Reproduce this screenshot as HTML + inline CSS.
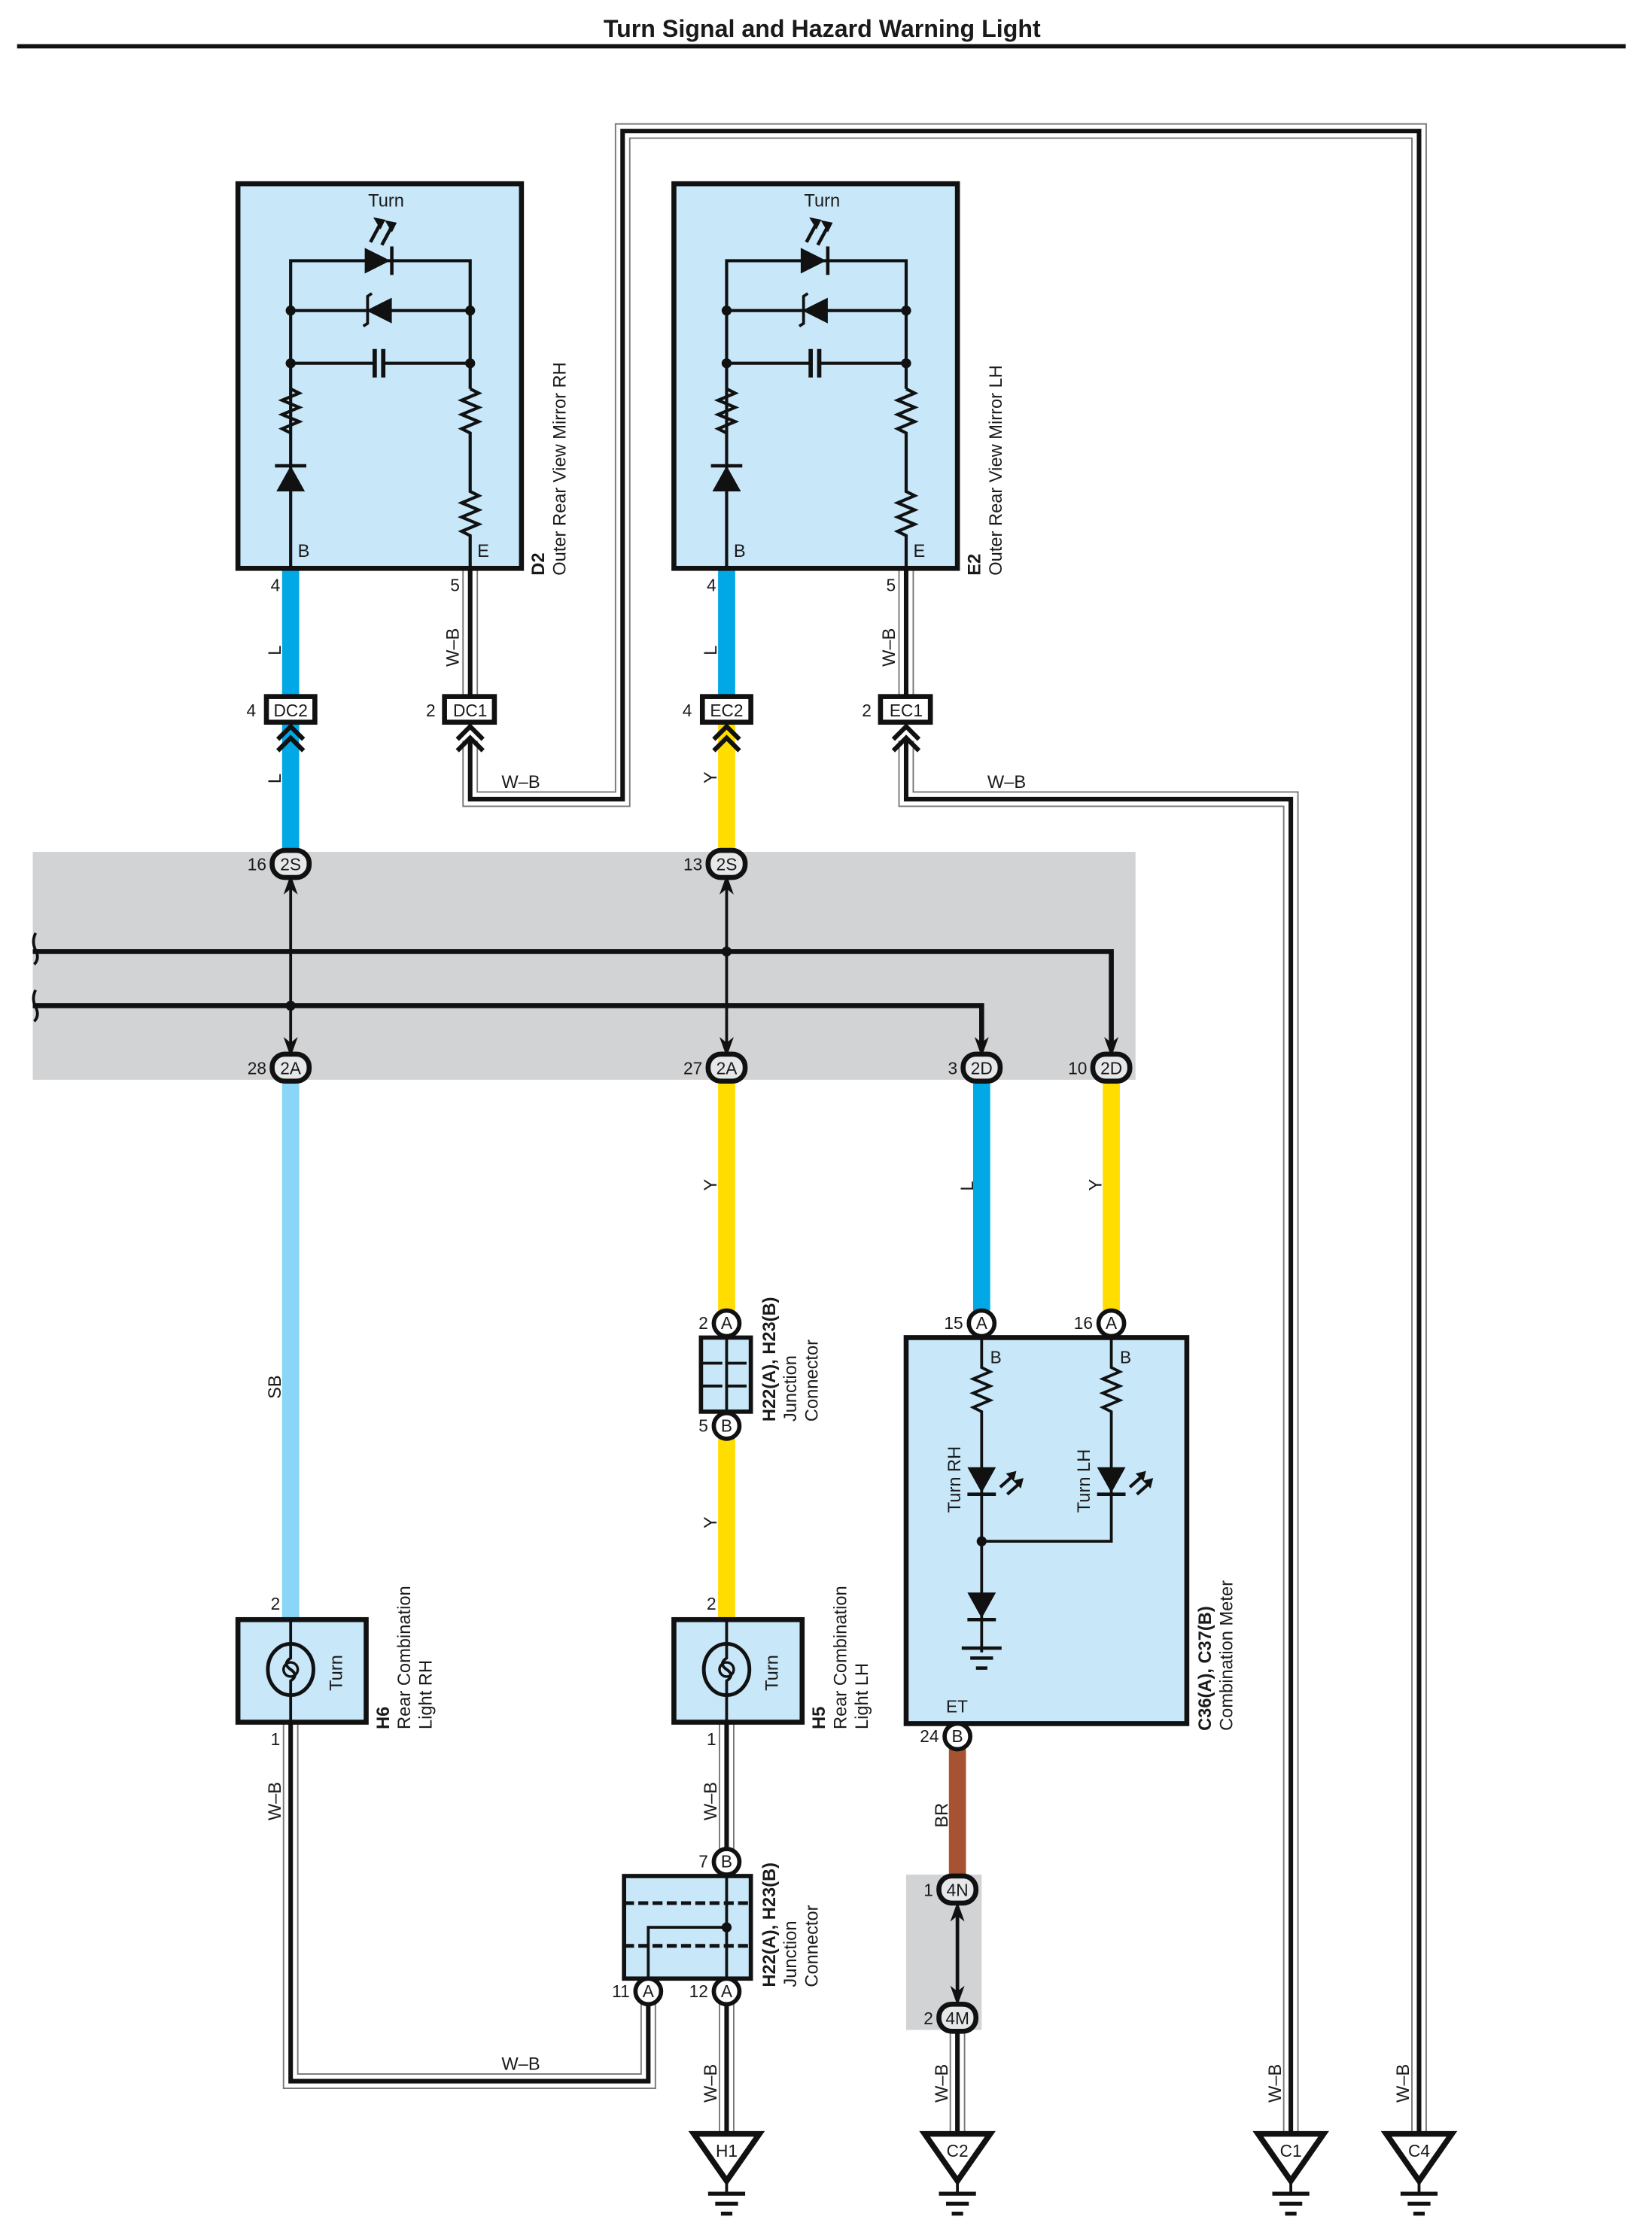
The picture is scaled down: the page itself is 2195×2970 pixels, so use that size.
<!DOCTYPE html>
<html><head><meta charset="utf-8"><style>
html,body{margin:0;padding:0;background:#fff}
svg{display:block}
text{font-family:"Liberation Sans",Arial,sans-serif;fill:#1a1a1a}
.p{font-size:12px}
.l{font-size:12.5px}
.b{font-weight:bold}
</style></head><body>
<svg width="2195" height="2970" viewBox="0 0 1159.5 1569" preserveAspectRatio="none" xmlns="http://www.w3.org/2000/svg">
<defs>
<g id="gnd"><path d="M-23 0 L23 0 L0 33 Z" fill="#fff" stroke="#111" stroke-width="4" stroke-linejoin="miter"/><path d="M0 33 V42" stroke="#111" stroke-width="2"/><path d="M-13 42 H13 M-8 49 H8 M-4 56 H4" stroke="#111" stroke-width="2.8"/></g>
<g id="chev"><path d="M-9 12 l9 -9 l9 9 M-9 20 l9 -9 l9 9" fill="none" stroke="#111" stroke-width="3.2"/></g>
<path id="up" d="M0 -2 l-5 14 l5 -4 l5 4 z" fill="#111"/>
<path id="dn" d="M0 2 l-5 -14 l5 4 l5 -4 z" fill="#111"/>
</defs>

<text x="577" y="26" text-anchor="middle" font-size="17" class="b">Turn Signal and Hazard Warning Light</text>
<rect x="12" y="31" width="1129" height="3" fill="#111"/>

<!-- gray bands -->
<rect x="23" y="598" width="774" height="160" fill="#d1d3d4"/>
<rect x="636" y="1316" width="53" height="109" fill="#d1d3d4"/>

<!-- W-B wires -->
<g fill="none" stroke-linejoin="miter">
<g stroke="#777" stroke-width="11">
<path d="M330 399 V488"/><path d="M330 520 V561 H437 V92 H996 V1498"/>
<path d="M636 399 V488"/><path d="M636 520 V561 H906 V1498"/>
<path d="M204 1209 V1461 H455 V1398"/><path d="M510 1209 V1307"/><path d="M510 1398 V1498"/><path d="M672 1425 V1498"/>
</g>
<g stroke="#fff" stroke-width="9">
<path d="M330 399 V488"/><path d="M330 520 V561 H437 V92 H996 V1498"/>
<path d="M636 399 V488"/><path d="M636 520 V561 H906 V1498"/>
<path d="M204 1209 V1461 H455 V1398"/><path d="M510 1209 V1307"/><path d="M510 1398 V1498"/><path d="M672 1425 V1498"/>
</g>
<g stroke="#111" stroke-width="3.2">
<path d="M330 399 V488"/><path d="M330 520 V561 H437 V92 H996 V1498"/>
<path d="M636 399 V488"/><path d="M636 520 V561 H906 V1498"/>
<path d="M204 1209 V1461 H455 V1398"/><path d="M510 1209 V1307"/><path d="M510 1398 V1498"/><path d="M672 1425 V1498"/>
</g>
</g>

<!-- colored wires -->
<g fill="none" stroke-width="12">
<path d="M204 399 V598" stroke="#00a9e6"/>
<path d="M510 399 V488" stroke="#00a9e6"/>
<path d="M510 507 V598" stroke="#ffdd00"/>
<path d="M204 758 V1137" stroke="#8ad6f6"/>
<path d="M510 758 V920" stroke="#ffdd00"/>
<path d="M510 1010 V1137" stroke="#ffdd00"/>
<path d="M689 758 V920" stroke="#00a9e6"/>
<path d="M780 758 V920" stroke="#ffdd00"/>
<path d="M672 1228 V1316" stroke="#a65332"/>
</g>

<!-- Mirror boxes -->
<g id="mir">
<rect x="167" y="129" width="199" height="270" fill="#c8e8fa" stroke="#111" stroke-width="3.5"/>
<text x="271" y="145" text-anchor="middle" class="l">Turn</text>
<g fill="none" stroke="#111" stroke-width="2.2">
<path d="M204 399 V183 H330 V273"/>
<path d="M204 218 H330"/>
<path d="M204 255 H263 M268 255 H330"/>
<path d="M330 273 l6 3 l-12 5 l12 5 l-12 5 l12 5 l-12 5 l6 3 V345 l6 3 l-12 5 l12 5 l-12 5 l12 5 l-12 5 l6 3 V399"/>
<path d="M204 273 l6 3 l-12 5 l12 5 l-12 5 l12 5 l-12 5 l6 3"/>
</g>
<path d="M256 174 L274 183 L256 192 Z" fill="#111"/><path d="M275 173 V193" stroke="#111" stroke-width="2.4"/>
<path d="M260 170 l7 -13 M268 172 l7 -13" stroke="#111" stroke-width="2.4"/>
<path d="M264 154 l5 1 l-2 4z M272 156 l5 1 l-2 4z" fill="#111" stroke="#111" stroke-width="2"/>
<path d="M275 209 L257 218 L275 227 Z" fill="#111"/><path d="M255 229 l3 -2 V208 l3 -2" fill="none" stroke="#111" stroke-width="2"/>
<path d="M263 245 V265 M269 245 V265" stroke="#111" stroke-width="3"/>
<path d="M194 345 L204 327 L214 345 Z" fill="#111"/><path d="M193 327 H215" stroke="#111" stroke-width="2.4"/>
<circle cx="204" cy="218" r="3.5" fill="#111"/><circle cx="330" cy="218" r="3.5" fill="#111"/>
<circle cx="204" cy="255" r="3.5" fill="#111"/><circle cx="330" cy="255" r="3.5" fill="#111"/>
<text x="209" y="391" class="l">B</text><text x="335" y="391" class="l">E</text>
</g>
<use href="#mir" x="306"/>

<text transform="translate(382,404) rotate(-90)" class="l b">D2</text>
<text transform="translate(397,404) rotate(-90)" class="l">Outer Rear View Mirror RH</text>
<text transform="translate(688,404) rotate(-90)" class="l b">E2</text>
<text transform="translate(703,404) rotate(-90)" class="l">Outer Rear View Mirror LH</text>

<text x="190" y="415" class="p">4</text><text x="316" y="415" class="p">5</text>
<text x="496" y="415" class="p">4</text><text x="622" y="415" class="p">5</text>
<text transform="translate(197,460) rotate(-90)" class="l">L</text>
<text transform="translate(322,468) rotate(-90)" class="l">W–B</text>
<text transform="translate(503,460) rotate(-90)" class="l">L</text>
<text transform="translate(628,468) rotate(-90)" class="l">W–B</text>
<text transform="translate(197,550) rotate(-90)" class="l">L</text>
<text transform="translate(503,550) rotate(-90)" class="l">Y</text>
<text x="352" y="553" class="l">W–B</text>
<text x="693" y="553" class="l">W–B</text>

<g fill="#fff" stroke="#111" stroke-width="3.5">
<rect x="187" y="489" width="34" height="18"/><rect x="312" y="489" width="35" height="18"/>
<rect x="493" y="489" width="34" height="18"/><rect x="618" y="489" width="35" height="18"/>
</g>
<g class="p" text-anchor="middle">
<text x="204" y="503">DC2</text><text x="330" y="503">DC1</text><text x="510" y="503">EC2</text><text x="636" y="503">EC1</text>
</g>
<text x="173" y="503" class="p">4</text><text x="299" y="503" class="p">2</text><text x="479" y="503" class="p">4</text><text x="605" y="503" class="p">2</text>
<use href="#chev" x="204" y="507"/><use href="#chev" x="330" y="507"/><use href="#chev" x="510" y="507"/><use href="#chev" x="636" y="507"/>

<g stroke="#111" fill="none">
<path d="M204 620 V736 M510 620 V736" stroke-width="2"/>
<path d="M23 668 H780 V732 M23 706 H689 V732" stroke-width="3.5"/>
<path d="M25 655 q-3 6 0 12 q3 6 -1 10 M25 695 q-3 6 0 12 q3 6 -1 10" stroke-width="2"/>
</g>
<circle cx="510" cy="668" r="3.5" fill="#111"/><circle cx="204" cy="706" r="3.5" fill="#111"/>
<use href="#up" x="204" y="616"/><use href="#up" x="510" y="616"/>
<use href="#dn" x="204" y="740"/><use href="#dn" x="510" y="740"/><use href="#dn" x="689" y="740"/><use href="#dn" x="780" y="740"/>

<g fill="#e6e7e8" stroke="#111" stroke-width="3.5">
<rect x="191" y="597" width="26" height="19" rx="9"/><rect x="497" y="597" width="26" height="19" rx="9"/>
<rect x="191" y="740" width="26" height="19" rx="9"/><rect x="497" y="740" width="26" height="19" rx="9"/>
<rect x="676" y="740" width="26" height="19" rx="9"/><rect x="767" y="740" width="26" height="19" rx="9"/>
<rect x="659" y="1317" width="26" height="19" rx="9"/><rect x="659" y="1407" width="26" height="19" rx="9"/>
</g>
<g class="p" text-anchor="middle">
<text x="204" y="611">2S</text><text x="510" y="611">2S</text>
<text x="204" y="754">2A</text><text x="510" y="754">2A</text><text x="689" y="754">2D</text><text x="780" y="754">2D</text>
<text x="672" y="1331">4N</text><text x="672" y="1421">4M</text>
</g>
<g class="p" text-anchor="end">
<text x="187" y="611">16</text><text x="493" y="611">13</text>
<text x="187" y="754">28</text><text x="493" y="754">27</text><text x="672" y="754">3</text><text x="763" y="754">10</text>
<text x="655" y="1331">1</text><text x="655" y="1421">2</text>
</g>
<path d="M672 1345 V1398" stroke="#111" stroke-width="2.5"/>
<use href="#up" x="672" y="1337"/><use href="#dn" x="672" y="1406"/>

<text transform="translate(197,982) rotate(-90)" class="l">SB</text>
<text transform="translate(503,836) rotate(-90)" class="l">Y</text>
<text transform="translate(683,836) rotate(-90)" class="l">L</text>
<text transform="translate(773,836) rotate(-90)" class="l">Y</text>
<text transform="translate(503,1073) rotate(-90)" class="l">Y</text>
<text transform="translate(665,1283) rotate(-90)" class="l">BR</text>
<text transform="translate(197,1278) rotate(-90)" class="l">W–B</text>
<text transform="translate(503,1278) rotate(-90)" class="l">W–B</text>
<text transform="translate(503,1476) rotate(-90)" class="l">W–B</text>
<text transform="translate(665,1476) rotate(-90)" class="l">W–B</text>
<text transform="translate(899,1476) rotate(-90)" class="l">W–B</text>
<text transform="translate(989,1476) rotate(-90)" class="l">W–B</text>
<text x="352" y="1453" class="l">W–B</text>

<rect x="492" y="939" width="35" height="52" fill="#c8e8fa" stroke="#111" stroke-width="3"/>
<path d="M510 939 V991" stroke="#111" stroke-width="2"/>
<path d="M492 957 H527 M492 973 H527" stroke="#111" stroke-width="2" stroke-dasharray="15 2"/>
<text transform="translate(544,998) rotate(-90)" class="l b">H22(A), H23(B)</text>
<text transform="translate(559,998) rotate(-90)" class="l">Junction</text>
<text transform="translate(574,998) rotate(-90)" class="l">Connector</text>

<rect x="438" y="1317" width="89" height="72" fill="#c8e8fa" stroke="#111" stroke-width="3"/>
<path d="M438 1336 H527 M438 1366 H527" stroke="#111" stroke-width="2.6" stroke-dasharray="7 3"/>
<path d="M510 1317 V1389 M455 1389 V1353 H510" fill="none" stroke="#111" stroke-width="2"/>
<circle cx="510" cy="1353" r="3.5" fill="#111"/>
<text transform="translate(544,1395) rotate(-90)" class="l b">H22(A), H23(B)</text>
<text transform="translate(559,1395) rotate(-90)" class="l">Junction</text>
<text transform="translate(574,1395) rotate(-90)" class="l">Connector</text>

<rect x="636" y="939" width="197" height="271" fill="#c8e8fa" stroke="#111" stroke-width="3.5"/>
<g fill="none" stroke="#111" stroke-width="2">
<path d="M689 939 V960 l6 3 l-12 5 l12 5 l-12 5 l12 5 l-12 5 l6 3 V1160"/>
<path d="M780 939 V960 l6 3 l-12 5 l12 5 l-12 5 l12 5 l-12 5 l6 3 V1082 H689"/>
</g>
<path d="M679 1030 L699 1030 L689 1048 Z M770 1030 L790 1030 L780 1048 Z M679 1118 L699 1118 L689 1136 Z" fill="#111"/>
<path d="M679 1049 H699 M770 1049 H790 M679 1137 H699" stroke="#111" stroke-width="2.4"/>
<path d="M702 1044 l9 -8 M707 1049 l9 -8 M793 1044 l9 -8 M798 1049 l9 -8" stroke="#111" stroke-width="2.2"/>
<path d="M712 1034 l-4 1 l3 3z M717 1039 l-4 1 l3 3z M803 1034 l-4 1 l3 3z M808 1039 l-4 1 l3 3z" fill="#111" stroke="#111" stroke-width="2"/>
<circle cx="689" cy="1082" r="3.5" fill="#111"/>
<path d="M675 1157 H703 M681 1164 H697 M685 1171 H693" stroke="#111" stroke-width="2.4"/>
<text x="695" y="957" class="p">B</text><text x="786" y="957" class="p">B</text>
<text transform="translate(674,1062) rotate(-90)" class="l">Turn RH</text>
<text transform="translate(765,1062) rotate(-90)" class="l">Turn LH</text>
<text x="664" y="1202" class="p">ET</text>
<text transform="translate(850,1215) rotate(-90)" class="l b">C36(A), C37(B)</text>
<text transform="translate(865,1215) rotate(-90)" class="l">Combination Meter</text>

<g id="lamp">
<rect x="167" y="1137" width="90" height="72" fill="#c8e8fa" stroke="#111" stroke-width="3.5"/>
<path d="M204 1137 V1164 q-6 4 0 8 q6 4 0 8 V1209" fill="none" stroke="#111" stroke-width="2"/>
<circle cx="204" cy="1172" r="5" fill="none" stroke="#111" stroke-width="1.8"/>
<ellipse cx="204" cy="1172" rx="16" ry="18" fill="none" stroke="#111" stroke-width="2.6"/>
<text transform="translate(240,1187) rotate(-90)" class="l">Turn</text>
<text x="190" y="1130" class="p">2</text><text x="190" y="1225" class="p">1</text>
</g>
<use href="#lamp" x="306"/>
<text transform="translate(273,1214) rotate(-90)" class="l b">H6</text>
<text transform="translate(288,1214) rotate(-90)" class="l">Rear Combination</text>
<text transform="translate(303,1214) rotate(-90)" class="l">Light RH</text>
<text transform="translate(579,1214) rotate(-90)" class="l b">H5</text>
<text transform="translate(594,1214) rotate(-90)" class="l">Rear Combination</text>
<text transform="translate(609,1214) rotate(-90)" class="l">Light LH</text>

<g fill="#fff" stroke="#111" stroke-width="3">
<circle cx="510" cy="929" r="9"/><circle cx="510" cy="1001" r="9"/>
<circle cx="689" cy="929" r="9"/><circle cx="780" cy="929" r="9"/>
<circle cx="672" cy="1219" r="9"/>
<circle cx="510" cy="1307" r="9"/><circle cx="455" cy="1398" r="9"/><circle cx="510" cy="1398" r="9"/>
</g>
<g class="p" text-anchor="middle">
<text x="510" y="933">A</text><text x="510" y="1005">B</text>
<text x="689" y="933">A</text><text x="780" y="933">A</text><text x="672" y="1223">B</text>
<text x="510" y="1311">B</text><text x="455" y="1402">A</text><text x="510" y="1402">A</text>
</g>
<g class="p" text-anchor="end">
<text x="497" y="933">2</text><text x="497" y="1005">5</text>
<text x="676" y="933">15</text><text x="767" y="933">16</text><text x="659" y="1223">24</text>
<text x="497" y="1311">7</text><text x="442" y="1402">11</text><text x="497" y="1402">12</text>
</g>

<use href="#gnd" x="510" y="1498"/><use href="#gnd" x="672" y="1498"/><use href="#gnd" x="906" y="1498"/><use href="#gnd" x="996" y="1498"/>
<g class="p" text-anchor="middle">
<text x="510" y="1514">H1</text><text x="672" y="1514">C2</text><text x="906" y="1514">C1</text><text x="996" y="1514">C4</text>
</g>
</svg>
</body></html>
